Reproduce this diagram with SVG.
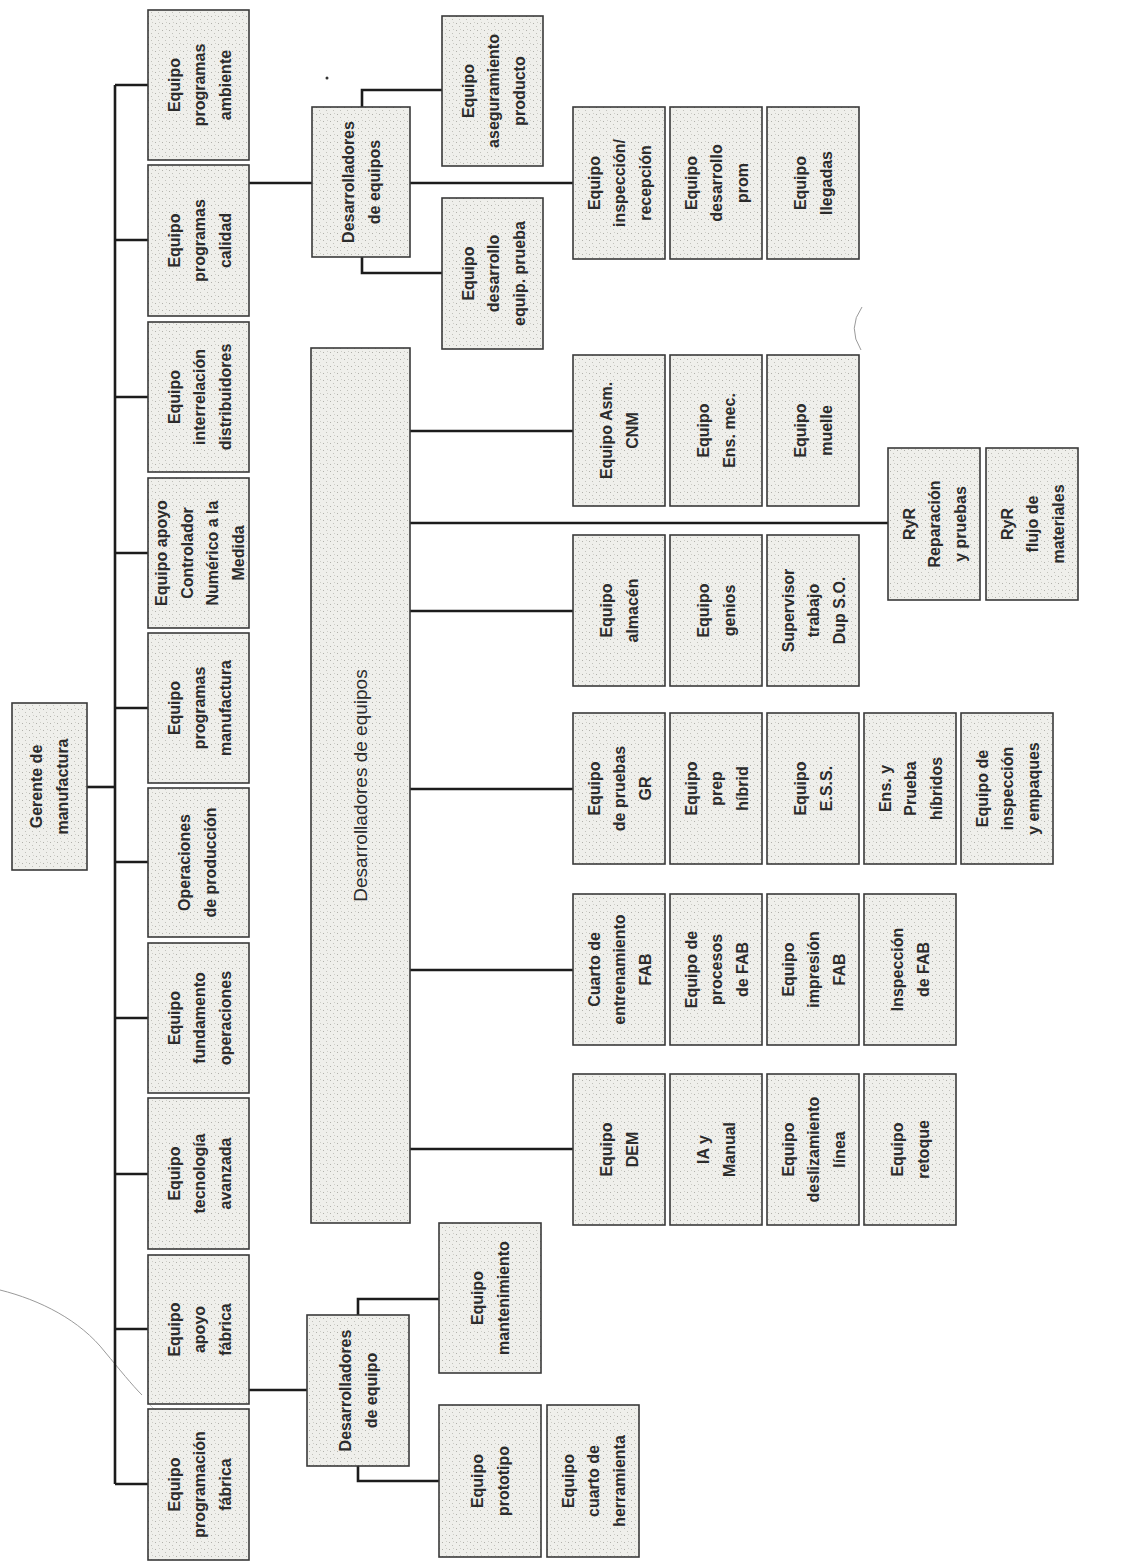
<svg xmlns="http://www.w3.org/2000/svg" width="1131" height="1562" viewBox="0 0 1131 1562">
<defs>
<pattern id="speckle" width="7" height="7" patternUnits="userSpaceOnUse">
<rect width="7" height="7" fill="#efefeb"/>
<rect x="1" y="2" width="1" height="1" fill="#b0b0aa"/>
<rect x="4" y="5" width="1" height="1" fill="#c0c0ba"/>
<rect x="5" y="1" width="1" height="1" fill="#cdcdc7"/>
</pattern>
</defs>
<style>
.box{fill:url(#speckle);stroke:#3a3a3a;stroke-width:1.6}
.t{font-family:"Liberation Sans",Arial,sans-serif;font-weight:bold;font-size:16px;fill:#2c2c2c;text-anchor:middle}
.big{font-size:19px;font-weight:normal}
.conn{stroke:#1c1c1c;stroke-width:2.6;fill:none}
.scan{stroke:#9a9a9a;stroke-width:1;fill:none}
</style>
<rect width="1131" height="1562" fill="#ffffff"/>

<g id="artifacts">
<path class="scan" d="M0,1290 C40,1300 80,1320 105,1352 C120,1370 132,1385 142,1395"/>
<path class="scan" d="M150,1405 C162,1418 176,1430 187,1440" stroke-opacity="0.5"/>
<path class="scan" d="M862,307 Q847,328 861,350" stroke="#555"/>
<circle cx="327" cy="78" r="1.5" fill="#333"/>
</g>

<g id="connectors">
<path class="conn" d="M87,787 H115"/>
<path class="conn" d="M115,85 V1484"/>
<path class="conn" d="M115,85 H148 M115,240 H148 M115,397 H148 M115,553 H148 M115,708 H148 M115,862 H148 M115,1018 H148 M115,1174 H148 M115,1329 H148 M115,1484 H148"/>
<path class="conn" d="M249,183 H312"/>
<path class="conn" d="M410,183 H573"/>
<path class="conn" d="M362,107 V90 H442"/>
<path class="conn" d="M362,257 V273 H442"/>
<path class="conn" d="M410,431 H573 M410,523 H888 M410,611 H573 M410,789 H573 M410,970 H573 M410,1149 H573"/>
<path class="conn" d="M249,1390 H307"/>
<path class="conn" d="M358,1315 V1299 H439"/>
<path class="conn" d="M358,1466 V1481 H439"/>
</g>

<g id="n-gerente"><rect class="box" x="12" y="703" width="75" height="167"/>
<text class="t" transform="translate(50,786.5) rotate(-90)"><tspan x="0" dy="-7.7">Gerente de</tspan><tspan x="0" dy="25.5">manufactura</tspan></text></g>

<g id="n-ambiente"><rect class="box" x="148" y="10" width="101" height="150"/>
<text class="t" transform="translate(200,85) rotate(-90)"><tspan x="0" dy="-20.5">Equipo</tspan><tspan x="0" dy="25.5">programas</tspan><tspan x="0" dy="25.5">ambiente</tspan></text></g>

<g id="n-calidad"><rect class="box" x="148" y="165" width="101" height="151"/>
<text class="t" transform="translate(200,240.5) rotate(-90)"><tspan x="0" dy="-20.5">Equipo</tspan><tspan x="0" dy="25.5">programas</tspan><tspan x="0" dy="25.5">calidad</tspan></text></g>

<g id="n-distribuidores"><rect class="box" x="148" y="322" width="101" height="150"/>
<text class="t" transform="translate(200,397) rotate(-90)"><tspan x="0" dy="-20.5">Equipo</tspan><tspan x="0" dy="25.5">interrelación</tspan><tspan x="0" dy="25.5">distribuidores</tspan></text></g>

<g id="n-cnm"><rect class="box" x="148" y="478" width="101" height="150"/>
<text class="t" transform="translate(200,553) rotate(-90)"><tspan x="0" dy="-33">Equipo apoyo</tspan><tspan x="0" dy="25.5">Controlador</tspan><tspan x="0" dy="25.5">Numérico a la</tspan><tspan x="0" dy="25.5">Medida</tspan></text></g>

<g id="n-manufactura"><rect class="box" x="148" y="633" width="101" height="150"/>
<text class="t" transform="translate(200,708) rotate(-90)"><tspan x="0" dy="-20.5">Equipo</tspan><tspan x="0" dy="25.5">programas</tspan><tspan x="0" dy="25.5">manufactura</tspan></text></g>

<g id="n-operaciones"><rect class="box" x="148" y="788" width="101" height="149"/>
<text class="t" transform="translate(198,862.5) rotate(-90)"><tspan x="0" dy="-7.7">Operaciones</tspan><tspan x="0" dy="25.5">de producción</tspan></text></g>

<g id="n-fundamento"><rect class="box" x="148" y="943" width="101" height="150"/>
<text class="t" transform="translate(200,1018) rotate(-90)"><tspan x="0" dy="-20.5">Equipo</tspan><tspan x="0" dy="25.5">fundamento</tspan><tspan x="0" dy="25.5">operaciones</tspan></text></g>

<g id="n-tecnologia"><rect class="box" x="148" y="1098" width="101" height="151"/>
<text class="t" transform="translate(200,1173.5) rotate(-90)"><tspan x="0" dy="-20.5">Equipo</tspan><tspan x="0" dy="25.5">tecnología</tspan><tspan x="0" dy="25.5">avanzada</tspan></text></g>

<g id="n-apoyo-fabrica"><rect class="box" x="148" y="1255" width="101" height="149"/>
<text class="t" transform="translate(200,1329.5) rotate(-90)"><tspan x="0" dy="-20.5">Equipo</tspan><tspan x="0" dy="25.5">apoyo</tspan><tspan x="0" dy="25.5">fábrica</tspan></text></g>

<g id="n-programacion-fabrica"><rect class="box" x="148" y="1409" width="101" height="151"/>
<text class="t" transform="translate(200,1484.5) rotate(-90)"><tspan x="0" dy="-20.5">Equipo</tspan><tspan x="0" dy="25.5">programación</tspan><tspan x="0" dy="25.5">fábrica</tspan></text></g>

<g id="n-desarrolladores-top"><rect class="box" x="312" y="107" width="98" height="150"/>
<text class="t" transform="translate(362,182) rotate(-90)"><tspan x="0" dy="-7.7">Desarrolladores</tspan><tspan x="0" dy="25.5">de equipos</tspan></text></g>

<g id="n-aseguramiento"><rect class="box" x="442" y="16" width="101" height="150"/>
<text class="t" transform="translate(494,91) rotate(-90)"><tspan x="0" dy="-20.5">Equipo</tspan><tspan x="0" dy="25.5">aseguramiento</tspan><tspan x="0" dy="25.5">producto</tspan></text></g>

<g id="n-desarrollo-prueba"><rect class="box" x="442" y="198" width="101" height="151"/>
<text class="t" transform="translate(494,273.5) rotate(-90)"><tspan x="0" dy="-20.5">Equipo</tspan><tspan x="0" dy="25.5">desarrollo</tspan><tspan x="0" dy="25.5">equip. prueba</tspan></text></g>

<g id="n-inspeccion-recepcion"><rect class="box" x="573" y="107" width="92" height="152"/>
<text class="t" transform="translate(620,183) rotate(-90)"><tspan x="0" dy="-20.5">Equipo</tspan><tspan x="0" dy="25.5">inspección/</tspan><tspan x="0" dy="25.5">recepción</tspan></text></g>

<g id="n-desarrollo-prom"><rect class="box" x="670" y="107" width="92" height="152"/>
<text class="t" transform="translate(717,183) rotate(-90)"><tspan x="0" dy="-20.5">Equipo</tspan><tspan x="0" dy="25.5">desarrollo</tspan><tspan x="0" dy="25.5">prom</tspan></text></g>

<g id="n-llegadas"><rect class="box" x="767" y="107" width="92" height="152"/>
<text class="t" transform="translate(814,183) rotate(-90)"><tspan x="0" dy="-7.7">Equipo</tspan><tspan x="0" dy="25.5">llegadas</tspan></text></g>

<g id="n-desarrolladores-big"><rect class="box" x="311" y="348" width="99" height="875"/>
<text class="t big" transform="translate(361,785.5) rotate(-90)"><tspan x="0" dy="6">Desarrolladores de equipos</tspan></text></g>

<g id="n-asm-cnm"><rect class="box" x="573" y="355" width="92" height="151"/>
<text class="t" transform="translate(620,430.5) rotate(-90)"><tspan x="0" dy="-7.7">Equipo Asm.</tspan><tspan x="0" dy="25.5">CNM</tspan></text></g>

<g id="n-ens-mec"><rect class="box" x="670" y="355" width="92" height="151"/>
<text class="t" transform="translate(717,430.5) rotate(-90)"><tspan x="0" dy="-7.7">Equipo</tspan><tspan x="0" dy="25.5">Ens. mec.</tspan></text></g>

<g id="n-muelle"><rect class="box" x="767" y="355" width="92" height="151"/>
<text class="t" transform="translate(814,430.5) rotate(-90)"><tspan x="0" dy="-7.7">Equipo</tspan><tspan x="0" dy="25.5">muelle</tspan></text></g>

<g id="n-ryr-reparacion"><rect class="box" x="888" y="448" width="92" height="152"/>
<text class="t" transform="translate(935,524) rotate(-90)"><tspan x="0" dy="-20.5">RyR</tspan><tspan x="0" dy="25.5">Reparación</tspan><tspan x="0" dy="25.5">y pruebas</tspan></text></g>

<g id="n-ryr-flujo"><rect class="box" x="986" y="448" width="92" height="152"/>
<text class="t" transform="translate(1033,524) rotate(-90)"><tspan x="0" dy="-20.5">RyR</tspan><tspan x="0" dy="25.5">flujo de</tspan><tspan x="0" dy="25.5">materiales</tspan></text></g>

<g id="n-almacen"><rect class="box" x="573" y="535" width="92" height="151"/>
<text class="t" transform="translate(620,610.5) rotate(-90)"><tspan x="0" dy="-7.7">Equipo</tspan><tspan x="0" dy="25.5">almacén</tspan></text></g>

<g id="n-genios"><rect class="box" x="670" y="535" width="92" height="151"/>
<text class="t" transform="translate(717,610.5) rotate(-90)"><tspan x="0" dy="-7.7">Equipo</tspan><tspan x="0" dy="25.5">genios</tspan></text></g>

<g id="n-supervisor"><rect class="box" x="767" y="535" width="92" height="151"/>
<text class="t" transform="translate(814,610.5) rotate(-90)"><tspan x="0" dy="-20.5">Supervisor</tspan><tspan x="0" dy="25.5">trabajo</tspan><tspan x="0" dy="25.5">Dup S.O.</tspan></text></g>

<g id="n-pruebas-gr"><rect class="box" x="573" y="713" width="92" height="151"/>
<text class="t" transform="translate(620,788.5) rotate(-90)"><tspan x="0" dy="-20.5">Equipo</tspan><tspan x="0" dy="25.5">de pruebas</tspan><tspan x="0" dy="25.5">GR</tspan></text></g>

<g id="n-prep-hibrid"><rect class="box" x="670" y="713" width="92" height="151"/>
<text class="t" transform="translate(717,788.5) rotate(-90)"><tspan x="0" dy="-20.5">Equipo</tspan><tspan x="0" dy="25.5">prep</tspan><tspan x="0" dy="25.5">híbrid</tspan></text></g>

<g id="n-ess"><rect class="box" x="767" y="713" width="92" height="151"/>
<text class="t" transform="translate(814,788.5) rotate(-90)"><tspan x="0" dy="-7.7">Equipo</tspan><tspan x="0" dy="25.5">E.S.S.</tspan></text></g>

<g id="n-ens-prueba"><rect class="box" x="864" y="713" width="92" height="151"/>
<text class="t" transform="translate(911,788.5) rotate(-90)"><tspan x="0" dy="-20.5">Ens. y</tspan><tspan x="0" dy="25.5">Prueba</tspan><tspan x="0" dy="25.5">híbridos</tspan></text></g>

<g id="n-inspeccion-empaques"><rect class="box" x="961" y="713" width="92" height="151"/>
<text class="t" transform="translate(1008,788.5) rotate(-90)"><tspan x="0" dy="-20.5">Equipo de</tspan><tspan x="0" dy="25.5">inspección</tspan><tspan x="0" dy="25.5">y empaques</tspan></text></g>

<g id="n-cuarto-entrenamiento"><rect class="box" x="573" y="894" width="92" height="151"/>
<text class="t" transform="translate(620,969.5) rotate(-90)"><tspan x="0" dy="-20.5">Cuarto de</tspan><tspan x="0" dy="25.5">entrenamiento</tspan><tspan x="0" dy="25.5">FAB</tspan></text></g>

<g id="n-procesos-fab"><rect class="box" x="670" y="894" width="92" height="151"/>
<text class="t" transform="translate(717,969.5) rotate(-90)"><tspan x="0" dy="-20.5">Equipo de</tspan><tspan x="0" dy="25.5">procesos</tspan><tspan x="0" dy="25.5">de FAB</tspan></text></g>

<g id="n-impresion-fab"><rect class="box" x="767" y="894" width="92" height="151"/>
<text class="t" transform="translate(814,969.5) rotate(-90)"><tspan x="0" dy="-20.5">Equipo</tspan><tspan x="0" dy="25.5">impresión</tspan><tspan x="0" dy="25.5">FAB</tspan></text></g>

<g id="n-inspeccion-fab"><rect class="box" x="864" y="894" width="92" height="151"/>
<text class="t" transform="translate(911,969.5) rotate(-90)"><tspan x="0" dy="-7.7">Inspección</tspan><tspan x="0" dy="25.5">de FAB</tspan></text></g>

<g id="n-dem"><rect class="box" x="573" y="1074" width="92" height="151"/>
<text class="t" transform="translate(620,1149.5) rotate(-90)"><tspan x="0" dy="-7.7">Equipo</tspan><tspan x="0" dy="25.5">DEM</tspan></text></g>

<g id="n-ia-manual"><rect class="box" x="670" y="1074" width="92" height="151"/>
<text class="t" transform="translate(717,1149.5) rotate(-90)"><tspan x="0" dy="-7.7">IA y</tspan><tspan x="0" dy="25.5">Manual</tspan></text></g>

<g id="n-deslizamiento"><rect class="box" x="767" y="1074" width="92" height="151"/>
<text class="t" transform="translate(814,1149.5) rotate(-90)"><tspan x="0" dy="-20.5">Equipo</tspan><tspan x="0" dy="25.5">deslizamiento</tspan><tspan x="0" dy="25.5">línea</tspan></text></g>

<g id="n-retoque"><rect class="box" x="864" y="1074" width="92" height="151"/>
<text class="t" transform="translate(911,1149.5) rotate(-90)"><tspan x="0" dy="-7.7">Equipo</tspan><tspan x="0" dy="25.5">retoque</tspan></text></g>

<g id="n-desarrolladores-bottom"><rect class="box" x="307" y="1315" width="102" height="151"/>
<text class="t" transform="translate(359,1390.5) rotate(-90)"><tspan x="0" dy="-7.7">Desarrolladores</tspan><tspan x="0" dy="25.5">de equipo</tspan></text></g>

<g id="n-mantenimiento"><rect class="box" x="439" y="1223" width="102" height="150"/>
<text class="t" transform="translate(491,1298) rotate(-90)"><tspan x="0" dy="-7.7">Equipo</tspan><tspan x="0" dy="25.5">mantenimiento</tspan></text></g>

<g id="n-prototipo"><rect class="box" x="439" y="1405" width="102" height="152"/>
<text class="t" transform="translate(491,1481) rotate(-90)"><tspan x="0" dy="-7.7">Equipo</tspan><tspan x="0" dy="25.5">prototipo</tspan></text></g>

<g id="n-herramienta"><rect class="box" x="547" y="1405" width="92" height="152"/>
<text class="t" transform="translate(594,1481) rotate(-90)"><tspan x="0" dy="-20.5">Equipo</tspan><tspan x="0" dy="25.5">cuarto de</tspan><tspan x="0" dy="25.5">herramienta</tspan></text></g>
</svg>
